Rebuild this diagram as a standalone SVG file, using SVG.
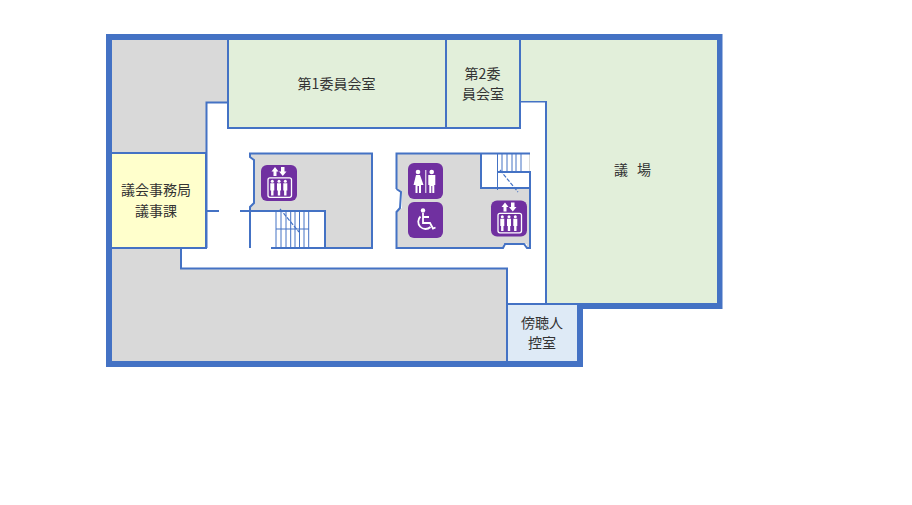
<svg xmlns="http://www.w3.org/2000/svg" width="912" height="505" viewBox="0 0 912 505">
<style>
.t{font-family:"Noto Sans CJK JP","Noto Sans CJK SC",sans-serif;font-size:14px;fill:#333;text-anchor:middle}
.w{fill:none;stroke:#4472c4;stroke-width:2}
.thin{fill:none;stroke:#4472c4;stroke-width:1}
.dash{fill:none;stroke:#4472c4;stroke-width:1.200;stroke-dasharray:4 1.500}
.g{fill:#d9d9d9}
.ic{fill:#7030a0}
.wh{fill:#fff}
.wl{fill:none;stroke:#fff;stroke-width:1.300}
</style>
<defs>
<g id="elev">
<rect width="36" height="36" rx="6" class="ic"/>
<path class="wh" d="M12.500 11V6.500H10.500L14 2L17.500 6.500H15.500V11ZM20 2H23.500V6.500H25.500L21.800 11L18 6.500H20Z"/>
<rect x="7" y="12.800" width="23.500" height="19.500" rx="2" class="wl"/>
<g id="p"><circle cx="11.300" cy="16.300" r="1.500" class="wh"/><path class="wh" d="M9.300 18.300H13.300L13.300 25.500H12.500V30.500H10.100V25.500H9.300Z"/></g>
<use href="#p" x="6.700"/><use href="#p" x="13"/>
</g>
</defs>
<rect width="912" height="505" fill="#fff"/>
<g id="outline">
<path d="M109 37H719.500V306H580V364H109Z" fill="#fff" stroke="#4472c4" stroke-width="6"/>
</g>
<g id="gray-west"><path class="g" d="M112 40H228V102H206V248H181V268H507V361H112Z"/></g>
<g id="corridor-walls">
<path class="w" d="M228 102.500H206.500V248M181 248V268.500H507V304M520 101.500H546V304"/>
<path class="w" d="M206 211H219M240 211H250"/>
</g>
<g id="room-1"><rect x="228" y="39" width="218" height="89" fill="#e2efda" stroke="#4472c4" stroke-width="2"/><text class="t" x="336.500" y="89">第1委員会室</text></g>
<g id="room-2"><rect x="446" y="39" width="74" height="89" fill="#e2efda" stroke="#4472c4" stroke-width="2"/><text class="t" x="482.500" y="79">第2委</text><text class="t" x="483" y="99">員会室</text></g>
<g id="assembly"><path d="M521 40H717V303H547V101H521Z" fill="#e2efda"/><text class="t" x="621" y="175">議</text><text class="t" x="644" y="175">場</text></g>
<g id="office"><rect x="111" y="153" width="95" height="95" fill="#ffffcc" stroke="#4472c4" stroke-width="2"/><text class="t" x="156" y="195">議会事務局</text><text class="t" x="156" y="216">議事課</text></g>
<g id="waiting"><path d="M507.500 304.500H577V361H507.500Z" fill="#deeaf6"/><path class="w" d="M507 304V361M507 304H578"/><text class="t" x="542" y="328">傍聴人</text><text class="t" x="542" y="348">控室</text></g>
<g id="core-1">
<path class="g" d="M250 153H372V248H250V207L254 203V159L250 156Z"/>
<rect x="251" y="212" width="74" height="36" fill="#fff"/>
<path class="w" d="M250 248V207L254 203V160L250 157V153.500H372V248H271M250 211H325V248"/>
<path class="thin" d="M276 211V248M281 211V248M286 211V248M290.700 211V248M295 211V248M299.500 211V248M304 211V248M308.700 211V248M276 229H309"/>
<path class="dash" d="M280 209L299 232"/>
<use href="#elev" x="261" y="165"/>
</g>
<g id="core-2">
<path class="g" d="M396.500 153H530V248H396.500V212L402 208V192L396.500 188Z"/>
<rect x="481" y="154" width="48" height="34" fill="#fff"/>
<rect x="503" y="244" width="24" height="5" fill="#fff"/>
<path class="w" d="M396.500 189L401 192L400 208L396.500 212V248H503L505 244H524L527 248H530V172H498M396.500 189V153.500H530M481 153V188H530"/>
<path class="thin" d="M497.500 153V190M502 153V172M507 153V172M512 153V172M516 153V172M521 153V172"/>
<path class="dash" d="M500 170L518 192"/>
<g id="restroom">
<rect x="408" y="163" width="35" height="36" rx="6" class="ic"/>
<circle cx="418" cy="172" r="2.300" class="wh"/>
<path class="wh" d="M416 175H420L423.500 185H421V193H419V186H417.500V193H415.500V185H413.500Z"/>
<rect x="425.300" y="170" width="1" height="23" class="wh"/>
<circle cx="431.700" cy="172" r="2.300" class="wh"/>
<path class="wh" d="M428.300 175H435.300V185H434.300V193H432.300V186H431.300V193H429.300V185H428.300Z"/>
</g>
<g id="accessible">
<rect x="408" y="202" width="35" height="36" rx="6" class="ic"/>
<circle cx="423" cy="210.500" r="2.200" class="wh"/>
<path fill="none" stroke="#fff" stroke-width="1.800" d="M423 213V223H430L433 228.500L435.500 227.500M423 217H429M420.500 216.500A6.800 6.800 0 1 0 430.500 227"/>
</g>
<use href="#elev" x="491" y="200.500"/>
</g>
</svg>
